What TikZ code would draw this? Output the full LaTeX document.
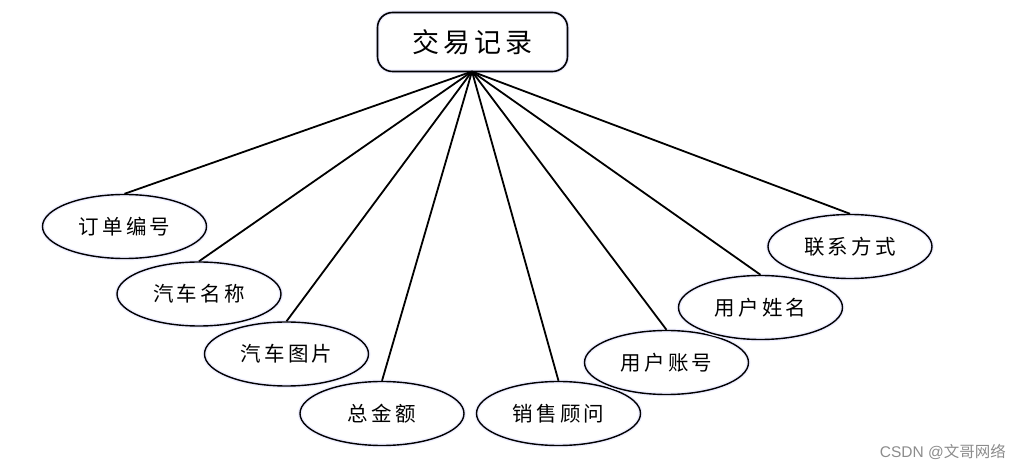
\documentclass[tikz,border=0pt]{standalone}
\usepackage{fontspec}
\newfontfamily\cjk[LetterSpace=16]{Noto Sans CJK SC}
\newfontfamily\wm{Liberation Sans}
\newfontfamily\wmcjk{Noto Sans CJK SC}
\usetikzlibrary{shapes.geometric}
\begin{document}
\begin{tikzpicture}[x=1pt,y=-1pt,
  attr/.style={ellipse,draw=black,line width=1.4pt,minimum width=164pt,minimum height=64pt,inner sep=0pt,font=\cjk\fontsize{20.5}{20.5}\selectfont,
    preaction={draw=blue!7,line width=4pt}},
  ent/.style={rectangle,rounded corners=15pt,draw=black,line width=1.6pt,minimum width=190pt,minimum height=59pt,inner sep=0pt,font=\cjk\fontsize{27}{27}\selectfont,
    preaction={draw=blue!7,line width=4pt}},
  link/.style={draw=black,line width=1.8pt}]
\useasboundingbox (0,0) rectangle (1021,470);
\node[ent] (rec) at (472.5,42) {交易记录};
\coordinate (hub) at (472,71.5);
\node[attr] (a1) at (124.5,226.5) {订单编号};
\node[attr] (a2) at (199,294) {汽车名称};
\node[attr] (a3) at (286.5,354) {汽车图片};
\node[attr] (a4) at (382,413.5) {总金额};
\node[attr] (a5) at (558.5,413.5) {销售顾问};
\node[attr] (a6) at (666.5,362.5) {用户账号};
\node[attr] (a7) at (760.5,307.5) {用户姓名};
\node[attr] (a8) at (850,246.5) {联系方式};
\foreach \n in {a1,a2,a3,a4,a5,a6,a7,a8}{\draw[link] (hub) -- (\n.north);}
\node[anchor=east,text=black!45,inner sep=0pt,font=\fontsize{15.5}{15.5}\selectfont] (wmk) at (1006,452) {\wm CSDN @\wmcjk 文哥网络};
\end{tikzpicture}
\end{document}
